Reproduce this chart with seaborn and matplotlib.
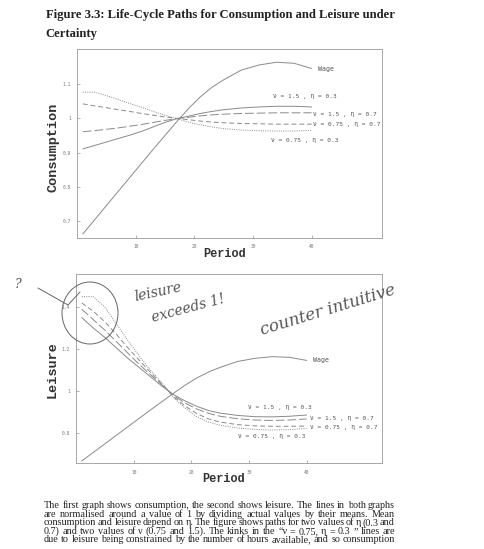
import numpy as np
import pandas as pd
import seaborn as sns
import matplotlib
matplotlib.use("Agg")
import matplotlib.pyplot as plt
from matplotlib.patches import Ellipse
from matplotlib.lines import Line2D

# ---------------- data ----------------
periods = [1, 3, 5, 7, 9, 11, 13, 15, 17, 19, 21, 23, 25, 28, 31, 34, 37, 40]

wage = [0.664, 0.705, 0.746, 0.787, 0.828, 0.869, 0.910, 0.950, 0.990, 1.028,
        1.062, 1.090, 1.112, 1.140, 1.155, 1.163, 1.160, 1.145]

cons_v15_e03 = [0.911, 0.921, 0.931, 0.941, 0.951, 0.962, 0.975, 0.988, 0.999, 1.006,
                1.014, 1.020, 1.025, 1.030, 1.033, 1.035, 1.035, 1.033]
cons_v15_e07 = [0.961, 0.964, 0.968, 0.972, 0.977, 0.982, 0.988, 0.994, 0.999, 1.003,
                1.007, 1.010, 1.012, 1.014, 1.015, 1.016, 1.016, 1.016]
cons_v075_e07 = [1.042, 1.036, 1.031, 1.025, 1.020, 1.014, 1.009, 1.004, 1.000, 0.996,
                 0.992, 0.989, 0.987, 0.985, 0.984, 0.983, 0.983, 0.983]
cons_v075_e03 = [1.076, 1.076, 1.066, 1.055, 1.043, 1.032, 1.020, 1.009, 0.999, 0.989,
                 0.981, 0.975, 0.970, 0.966, 0.964, 0.963, 0.963, 0.965]

leis_v15_e03 = [1.350, 1.300, 1.255, 1.205, 1.155, 1.110, 1.065, 1.020, 0.980, 0.950,
                0.925, 0.905, 0.893, 0.882, 0.876, 0.875, 0.878, 0.884]
leis_v15_e07 = [1.390, 1.340, 1.290, 1.235, 1.180, 1.125, 1.075, 1.025, 0.975, 0.940,
                0.912, 0.892, 0.878, 0.866, 0.860, 0.858, 0.860, 0.865]
leis_v075_e07 = [1.420, 1.380, 1.330, 1.270, 1.205, 1.145, 1.085, 1.030, 0.970, 0.925,
                 0.890, 0.865, 0.850, 0.838, 0.832, 0.830, 0.830, 0.831]
leis_v075_e03 = [1.450, 1.450, 1.400, 1.320, 1.240, 1.165, 1.095, 1.035, 0.965, 0.915,
                 0.875, 0.850, 0.835, 0.822, 0.815, 0.812, 0.814, 0.820]

series_names = ["Wage", "ν = 1.5 , η = 0.3", "ν = 1.5 , η = 0.7",
                "ν = 0.75 , η = 0.7", "ν = 0.75 , η = 0.3"]

top_yticks = [0.7, 0.8, 0.9, 1.0, 1.1]
top_yticklabels = ["0.7", "0.8", "0.9", "1", "1.1"]
bot_yticks = [0.8, 1.0, 1.2, 1.4]
bot_yticklabels = ["0.8", "1", "1.2", "1.4"]
xticks = [10, 20, 30, 40]

title_lines = ["Figure 3.3: Life-Cycle Paths for Consumption and Leisure under",
               "Certainty"]
caption_lines = [
    "The first graph shows consumption, the second shows leisure. The lines in both graphs",
    "are normalised around a value of 1 by dividing actual values by their means. Mean",
    "consumption and leisure depend on η. The figure shows paths for two values of η (0.3 and",
    "0.7) and two values of ν (0.75 and 1.5). The kinks in the “ν = 0.75, η = 0.3 ” lines are",
    "due to leisure being constrained by the number of hours available, and so consumption",
]

# ---------------- style ----------------
sns.set_theme(style="white")
plt.rcParams["font.family"] = ["DejaVu Sans"]

W, H = 484, 549
fig = plt.figure(figsize=(W / 100, H / 100), dpi=100)
fig.patch.set_facecolor("white")

def fx(px):
    return px / W

def fy(py):
    return 1 - py / H

line_col = "#8a8a8a"
styles = ["-", "-", (0, (9, 3)), (0, (5, 3)), (0, (1, 1.3))]

def draw_panel(ax, ys, xlim, ylim, yticks, yticklabels, label_pos):
    for name, y, ls in zip(series_names, ys, styles):
        df = pd.DataFrame({"Period": periods, "v": y})
        sns.lineplot(data=df, x="Period", y="v", ax=ax, color=line_col,
                     linewidth=0.7, linestyle=ls, legend=False)
    for name, (x, y) in zip(series_names, label_pos):
        fs = 4.8 if name == "Wage" else 4.4
        ax.text(x, y, name, fontsize=fs, family=["DejaVu Sans Mono"],
                color="#555555", ha="left", va="center")
    ax.set_xlim(*xlim)
    ax.set_ylim(*ylim)
    ax.set_xticks(xticks)
    ax.set_xticklabels([str(t) for t in xticks])
    ax.set_yticks(yticks)
    ax.set_yticklabels(yticklabels)
    ax.tick_params(axis="both", direction="in", length=2, width=0.4,
                   labelsize=3.3, colors="#777777", pad=4.5, left=True, bottom=True)
    for lab in ax.get_xticklabels() + ax.get_yticklabels():
        lab.set_family(["DejaVu Sans Mono"])
    for s in ax.spines.values():
        s.set_color("#9a9a9a")
        s.set_linewidth(0.6)
    ax.set_xlabel("")
    ax.set_ylabel("")
    ax.grid(False)

# top panel
ax1 = fig.add_axes([fx(77), fy(238), fx(382) - fx(77), fy(49) - fy(238)])
draw_panel(ax1, [wage, cons_v15_e03, cons_v15_e07, cons_v075_e07, cons_v075_e03],
           (0, 52), (0.652, 1.2015), top_yticks, top_yticklabels,
           [(41.1, 1.143), (33.4, 1.063), (40.3, 1.0125), (40.3, 0.9826), (33.1, 0.935)])

# bottom panel
ax2 = fig.add_axes([fx(76), fy(463.3), fx(381.7) - fx(76), fy(274.3) - fy(463.3)])
draw_panel(ax2, [wage, leis_v15_e03, leis_v15_e07, leis_v075_e07, leis_v075_e03],
           (0, 53), (0.653, 1.557), bot_yticks, bot_yticklabels,
           [(41.1, 1.148), (29.9, 0.919), (40.5, 0.865), (40.5, 0.826), (28.0, 0.78)])

# axis labels
mono_bold = dict(family=["Liberation Mono", "DejaVu Sans Mono"], fontweight="bold", color="#333333")
fig.text(fx(53), fy(147), "Consumption", rotation=90, ha="center", va="center", fontsize=9.7, **mono_bold)
fig.text(fx(225), fy(254), "Period", ha="center", va="center", fontsize=8.6, **mono_bold)
fig.text(fx(53), fy(370), "Leisure", rotation=90, ha="center", va="center", fontsize=9.7, **mono_bold)
fig.text(fx(224), fy(479), "Period", ha="center", va="center", fontsize=8.6, **mono_bold)

# title
serif_bold = dict(family=["Liberation Serif", "DejaVu Serif"], fontweight="bold", color="#222222")
fig.text(fx(45.7), fy(15), title_lines[0], ha="left", va="center", fontsize=9.05, **serif_bold)
fig.text(fx(45.7), fy(34), title_lines[1], ha="left", va="center", fontsize=9.05, **serif_bold)

# caption, justified (baseline aligned)
renderer = fig.canvas.get_renderer()
x_left, x_right = 44, 395
cap_baseline = [508.3, 516.9, 525.3, 533.9, 542.3]
for line, py in zip(caption_lines, cap_baseline):
    words = line.split(" ")
    objs = [fig.text(0, fy(py), w, ha="left", va="baseline", fontsize=7.3,
                     family=["Liberation Serif", "DejaVu Serif"], color="#222222")
            for w in words]
    widths = [o.get_window_extent(renderer).width for o in objs]
    gap = max((x_right - x_left - sum(widths)) / (len(words) - 1), 1.2)
    xpos = x_left
    for o, wdt in zip(objs, widths):
        o.set_x(fx(xpos))
        xpos += wdt + gap

# handwritten annotations
hand = dict(family=["DejaVu Serif"], fontstyle="italic", color="#555555")
fig.add_artist(Ellipse((fx(90), fy(313)), 56 / W, 62 / H, fill=False,
                       edgecolor="#666666", linewidth=0.7, transform=fig.transFigure))
fig.add_artist(Line2D([fx(38), fx(68), fx(80)], [fy(288), fy(305), fy(292)],
                      color="#666666", linewidth=0.7, transform=fig.transFigure))
fig.text(fx(18), fy(285), "?", fontsize=9, ha="center", va="center", **hand)
fig.text(fx(158), fy(292), "leisure", fontsize=10, ha="center", va="center", rotation=12, **hand)
fig.text(fx(188), fy(308), "exceeds 1!", fontsize=10, ha="center", va="center", rotation=15, **hand)
fig.text(fx(328), fy(310), "counter intuitive", fontsize=12, ha="center", va="center", rotation=17, **hand)

fig.savefig("out.png", dpi=100, facecolor="white")
